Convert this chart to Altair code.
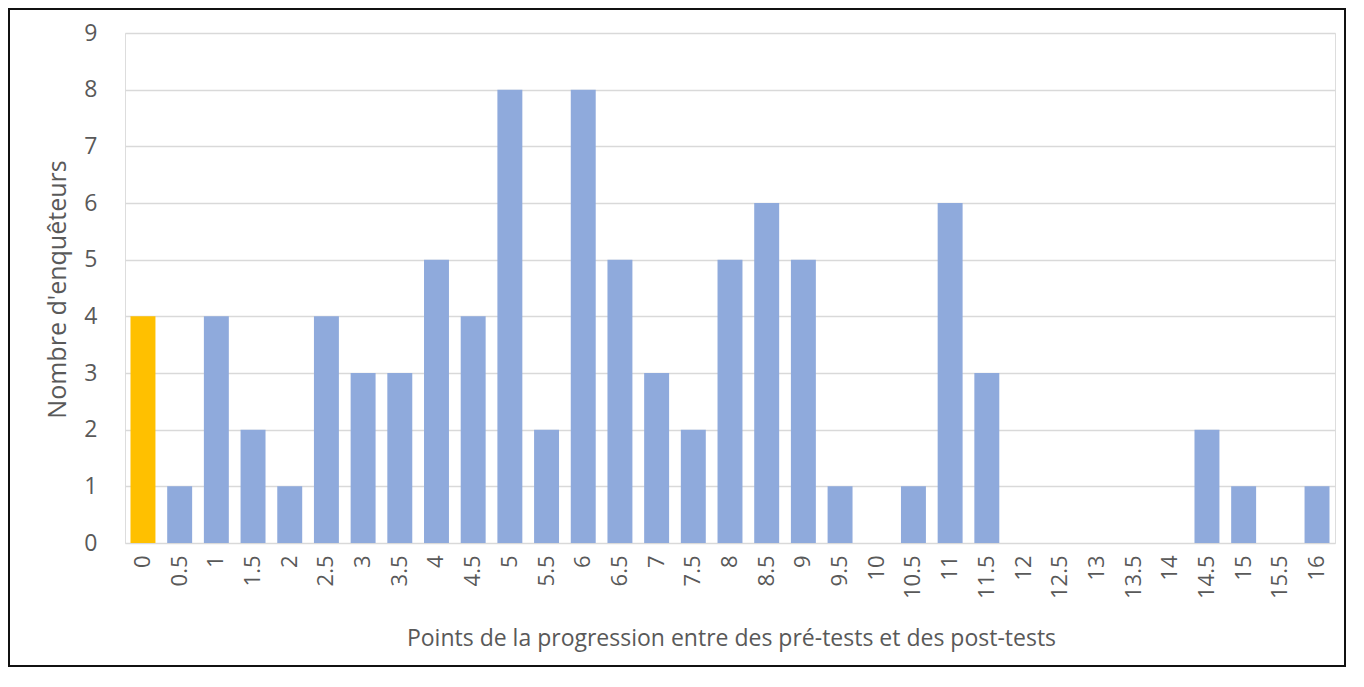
import altair as alt
import pandas as pd

categories = ["0", "0.5", "1", "1.5", "2", "2.5", "3", "3.5", "4", "4.5", "5", "5.5",
              "6", "6.5", "7", "7.5", "8", "8.5", "9", "9.5", "10", "10.5", "11", "11.5",
              "12", "12.5", "13", "13.5", "14", "14.5", "15", "15.5", "16"]
counts = [4, 1, 4, 2, 1, 4, 3, 3, 5, 4, 8, 2,
          8, 5, 3, 2, 5, 6, 5, 1, 0, 1, 6, 3,
          0, 0, 0, 0, 0, 2, 1, 0, 1]
y_ticks = [0, 1, 2, 3, 4, 5, 6, 7, 8, 9]

x_title = "Points de la progression entre des pré-tests et des post-tests"
y_title = "Nombre d'enquêteurs"

df = pd.DataFrame({"cat": categories, "n": counts})

FONT = "Open Sans"
TXT = "#595959"
W, H = 1210, 510

bars = alt.Chart(df).mark_bar().encode(
    x=alt.X("cat:N", sort=categories,
            scale=alt.Scale(paddingInner=0.32, paddingOuter=0.15),
            axis=alt.Axis(title=x_title, labelAngle=-90, labelPadding=12,
                          labelFont=FONT, labelFontSize=22, labelColor=TXT,
                          titleFont=FONT, titleFontSize=23, titleColor=TXT,
                          titleFontWeight="normal", titleX=606, titleY=95,
                          titleBaseline="middle", titleAlign="center",
                          ticks=False, domain=False, grid=False)),
    y=alt.Y("n:Q", scale=alt.Scale(domain=[0, 9], nice=False),
            axis=alt.Axis(title=y_title, values=y_ticks, labelPadding=28,
                          labelFont=FONT, labelFontSize=23, labelColor=TXT,
                          titleFont=FONT, titleFontSize=25, titleColor=TXT,
                          titleFontWeight="normal", titleX=-68, titleY=256,
                          titleAngle=270, titleBaseline="middle", titleAlign="center",
                          ticks=False, domain=False, grid=True,
                          gridColor="#D9D9D9", gridWidth=1.6)),
    color=alt.condition(alt.datum.cat == "0", alt.value("#FFC000"), alt.value("#8FAADC")),
)

border = alt.Chart(df).mark_rect(fillOpacity=0, stroke="#111111", strokeWidth=2).encode(
    x=alt.value(-116), x2=alt.value(1220), y=alt.value(-24), y2=alt.value(633)
)

chart = alt.layer(bars, border).properties(
    width=W, height=H,
    autosize=alt.AutoSizeParams(type="none"),
    padding={"left": 117, "top": 25, "right": 20, "bottom": 131},
).configure_view(stroke=None).configure(background="white")

chart.save("out.html", embed_options={"renderer": "svg", "actions": False})
